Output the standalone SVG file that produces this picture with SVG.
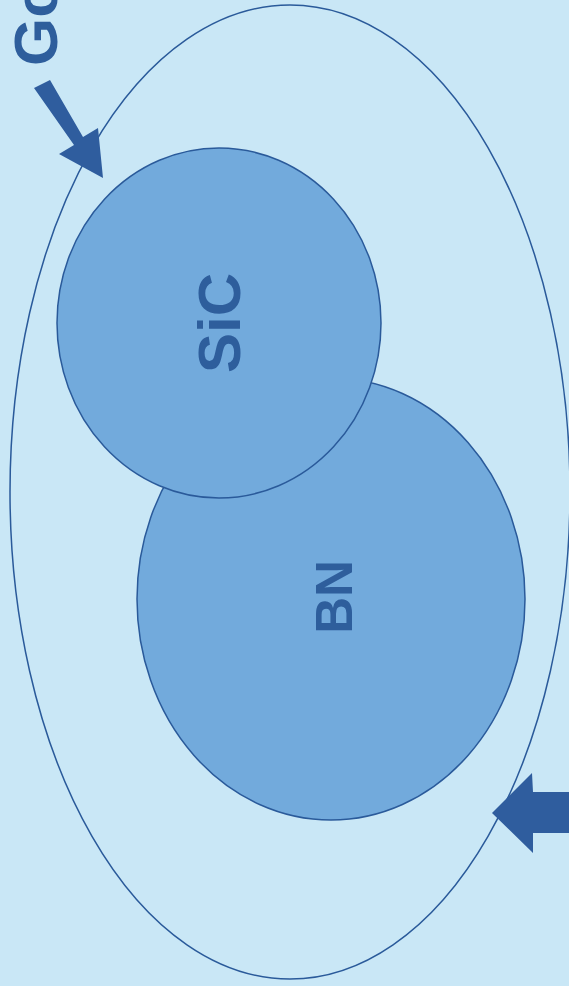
<svg xmlns="http://www.w3.org/2000/svg" width="569" height="986" viewBox="0 0 569 986">
<style>
.lbl{font-family:"Liberation Sans",Arial,sans-serif;font-weight:bold;fill:#2e5e9c}
.shape{fill:#72aadc;stroke:#2a5a9a;stroke-width:1.5}
.arrow{fill:#2f5d9e}
</style>
<rect x="0" y="0" width="569" height="986" fill="#c9e7f6"/>
<g id="outer">
<ellipse cx="290" cy="492" rx="280" ry="487" fill="none" stroke="#2a5a9a" stroke-width="1.5"/>
</g>
<g id="bn">
<ellipse class="shape" cx="331" cy="599" rx="194" ry="221"/>
<text class="lbl" font-size="51" text-anchor="middle" transform="translate(352,597) rotate(-90)">BN</text>
</g>
<g id="sic">
<ellipse class="shape" cx="219" cy="323" rx="162" ry="175"/>
<text class="lbl" font-size="60" text-anchor="middle" transform="translate(240,323) rotate(-90)">SiC</text>
</g>
<g id="label-go">
<text class="lbl" font-size="62" transform="translate(57,66) rotate(-90)">Go</text>
</g>
<g id="connectors">
<polygon class="arrow" points="34,88 50,80 83,137 98,128 103,178 59,154 74,145"/>
<polygon class="arrow" points="569,792 533,792 532,773 492,813 533,853 533,833 569,833"/>
</g>
</svg>
